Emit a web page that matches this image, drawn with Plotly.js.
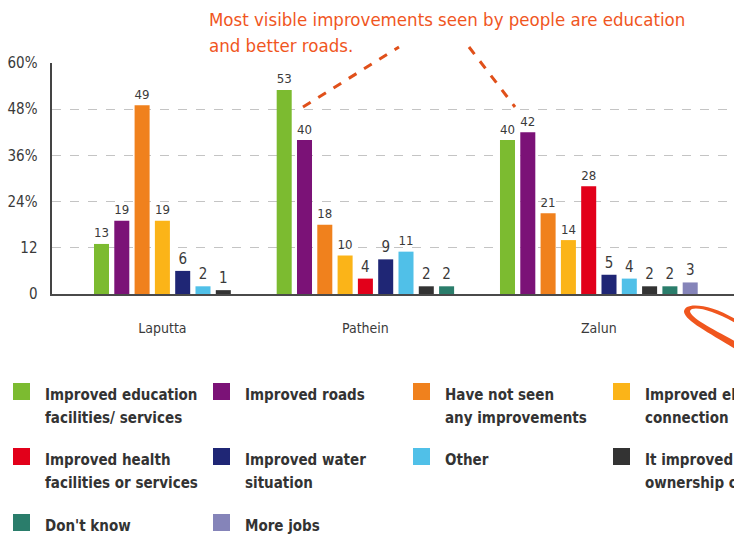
<!DOCTYPE html>
<html>
<head>
<meta charset="utf-8">
<script src="https://cdn.plot.ly/plotly-3.0.1.min.js"></script>
<style>
html,body{margin:0;padding:0;overflow:hidden;background:#fff;}
#chart{width:900px;height:537px;}
</style>
</head>
<body>
<div id="chart"></div>
<script>
// ---- data ----
var regions = ["Laputta", "Pathein", "Zalun"];
var seriesNames = [
  "Improved education<br>facilities/ services",
  "Improved roads",
  "Have not seen<br>any improvements",
  "Improved electricity<br>connection",
  "Improved health<br>facilities or services",
  "Improved water<br>situation",
  "Other",
  "It improved access to/<br>ownership of land",
  "Don't know",
  "More jobs"
];
var seriesColors = ["#7cbb30", "#7b1277", "#f0811d", "#fbb418", "#e2001a", "#1f2675", "#50c0e8", "#333333", "#2a7d6b", "#8584b9"];
var educationVals   = [13, 53, 40];
var roadsVals       = [19, 40, 42];
var notSeenVals     = [49, 18, 21];
var electricityVals = [19, 10, 14];
var healthVals      = [null, 4, 28];
var waterVals       = [6, 9, 5];
var otherVals       = [2, 11, 4];
var landVals        = [1, 2, 2];
var dontKnowVals    = [null, 2, 2];
var moreJobsVals    = [null, null, 3];
var yTickVals  = [0, 12, 24, 36, 48, 60];
var yTickText  = ["0", "12", "24%", "36%", "48%", "60%"];
var noteLines = ["Most visible improvements seen by people are education", "and better roads."];

var allSeries = [educationVals, roadsVals, notSeenVals, electricityVals, healthVals,
                 waterVals, otherVals, landVals, dontKnowVals, moreJobsVals];

// ---- slot layout: bars packed within a region, 2 empty slots between regions ----
var slotX = allSeries.map(function(){ return [null, null, null]; });
var groupCenters = [];
var slot = 0;
for (var g = 0; g < regions.length; g++) {
  var first = slot;
  for (var s = 0; s < allSeries.length; s++) {
    if (allSeries[s][g] !== null) { slotX[s][g] = slot; slot++; }
  }
  groupCenters.push((first + slot - 1) / 2);
  slot += 2;
}

var condFont = '"Liberation Sans Narrow", "DejaVu Sans Condensed", "Roboto Condensed", "Liberation Sans", sans-serif';
var textGray = "#3a3a3a";

var traces = allSeries.map(function(vals, s) {
  var xs = [], ys = [];
  for (var g = 0; g < regions.length; g++) {
    if (vals[g] !== null) { xs.push(slotX[s][g]); ys.push(vals[g]); }
  }
  return {
    type: "bar", x: xs, y: ys, width: 0.74,
    name: seriesNames[s],
    marker: {color: seriesColors[s], line: {width: 0}},
    text: ys.map(String), textposition: "outside",
    textfont: {family: condFont, size: 15, color: textGray},
    cliponaxis: false, showlegend: false, hoverinfo: "skip"
  };
});

// ---- plot geometry (pixels) ----
var W = 900, H = 537, mL = 52, mT = 63, mB = 243, mR = 0;
var plotW = W - mL - mR, plotH = H - mT - mB;
function px(x){ return (x - mL) / plotW; }
function py(y){ return (H - mB - y) / plotH; }

var shapes = [];
var annotations = [];

// top note with dashed pointers
noteLines.forEach(function(line, k) {
  annotations.push({
    xref: "paper", yref: "paper", x: px(207), y: py(19 + k * 27), xanchor: "left", yanchor: "middle",
    text: line, showarrow: false, align: "left",
    font: {family: condFont, size: 18.5, color: "#f0561e"}
  });
});
shapes.push({type: "line", xref: "paper", yref: "paper", x0: px(303), y0: py(107), x1: px(399), y1: py(47),
             line: {color: "#e0501a", width: 3, dash: "dash"}});
shapes.push({type: "line", xref: "paper", yref: "paper", x0: px(469), y0: py(47), x1: px(515), y1: py(107),
             line: {color: "#e0501a", width: 3, dash: "dash"}});

// swoosh at bottom right
function p(x, y){ return px(x) + "," + py(y); }
shapes.push({type: "path", xref: "paper", yref: "paper",
  path: "M" + p(740, 322) + " C" + p(715, 305) + " " + p(684, 300) + " " + p(684, 312) +
        " C" + p(686, 322) + " " + p(712, 334) + " " + p(740, 352) +
        " L" + p(740, 344) + " C" + p(715, 330) + " " + p(690, 318) + " " + p(690, 311) +
        " C" + p(692, 305) + " " + p(715, 310) + " " + p(740, 326) + " Z",
  fillcolor: "#f0561e", line: {width: 0}});

// custom legend
var colX = [13, 213, 413, 613], rowY = [383, 448, 514];
for (var i = 0; i < seriesNames.length; i++) {
  var c = i % 4, r = Math.floor(i / 4);
  shapes.push({type: "rect", xref: "paper", yref: "paper",
    x0: px(colX[c]), x1: px(colX[c] + 17), y0: py(rowY[r]), y1: py(rowY[r] + 17),
    fillcolor: seriesColors[i], line: {width: 0}});
  var lines = seriesNames[i].split("<br>");
  for (var k = 0; k < lines.length; k++) {
    annotations.push({xref: "paper", yref: "paper", x: px(colX[c] + 30), y: py(rowY[r] + 12 + k * 23),
      xanchor: "left", yanchor: "middle", text: "<b>" + lines[k] + "</b>", showarrow: false,
      font: {family: condFont, size: 15, color: "#333"}});
  }
}

var layout = {
  width: W, height: H,
  margin: {l: mL, r: mR, t: mT, b: mB, pad: 0},
  paper_bgcolor: "#fff", plot_bgcolor: "#fff",
  barmode: "overlay",
  showlegend: false,
  xaxis: {
    range: [(mL - 101.5) / 20.3, (mL - 101.5) / 20.3 + plotW / 20.3],
    tickvals: groupCenters, ticktext: regions,
    showgrid: false, zeroline: false,
    showline: true, linecolor: "#4a4a4a", linewidth: 2,
    ticks: "", ticklabelstandoff: 20,
    tickfont: {family: condFont, size: 14, color: textGray},
    fixedrange: true
  },
  yaxis: {
    range: [0, 60], tickvals: yTickVals, ticktext: yTickText,
    showgrid: true, gridcolor: "#c4c4c4", griddash: "dash", gridwidth: 1,
    zeroline: false, showline: true, linecolor: "#444", linewidth: 2.5,
    ticks: "", ticklabelstandoff: 9,
    tickfont: {family: condFont, size: 15, color: textGray},
    fixedrange: true
  },
  shapes: shapes,
  annotations: annotations
};

Plotly.newPlot("chart", traces, layout, {displayModeBar: false, staticPlot: true});
</script>
</body>
</html>
